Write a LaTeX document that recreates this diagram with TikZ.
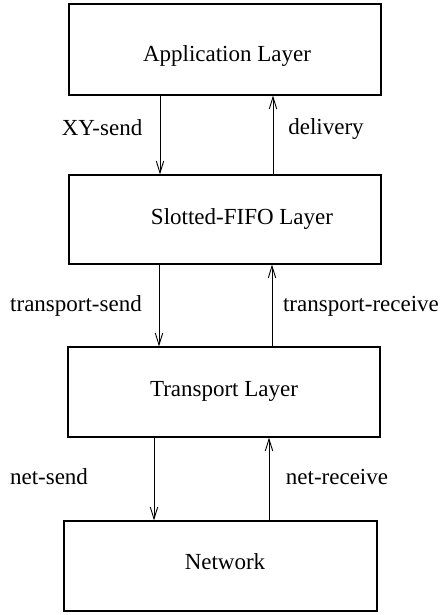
\documentclass[tikz,border=0pt]{standalone}
\usepackage{fontspec}
\setmainfont{Liberation Serif}
\usetikzlibrary{arrows.meta}
\begin{document}
\begin{tikzpicture}[x=1pt,y=-1pt,
  layerbox/.style={draw,line width=1.1pt,inner sep=0pt},
  lbl/.style={inner sep=0pt,font=\fontsize{23}{27}\selectfont},
  flow/.style={line width=0.9pt,-{Straight Barb[length=12pt,width=7.5pt,line width=0.9pt]}}]
\useasboundingbox (0,0) rectangle (445,615);

% protocol layers
\node[layerbox,minimum width=312pt,minimum height=91pt] (app)  at (225,49.5) {};
\node[layerbox,minimum width=312pt,minimum height=89pt] (slot) at (225,219.5) {};
\node[layerbox,minimum width=312pt,minimum height=90pt] (trans) at (224,392) {};
\node[layerbox,minimum width=313pt,minimum height=90pt] (net)  at (220.5,566) {};

% layer names
\node[lbl] (appname)   at (227,56)  {Application Layer};
\node[lbl] (slotname)  at (242,219.5) {Slotted-FIFO Layer};
\node[lbl] (transname) at (224,391) {Transport Layer};
\node[lbl] (netname)   at (225,562) {Network};

% downcalls and upcalls between layers
\draw[flow] (app.south -| 160,0) -- (slot.north -| 160,0);
\draw[flow] (slot.north -| 273,0) -- (app.south -| 273,0);
\draw[flow] (slot.south -| 159,0) -- (trans.north -| 159,0);
\draw[flow] (trans.north -| 272,0) -- (slot.south -| 272,0);
\draw[flow] (trans.south -| 154,0) -- (net.north -| 154,0);
\draw[flow] (net.north -| 269,0) -- (trans.south -| 269,0);

% primitive names
\node[lbl] (xysend)   at (102,128) {XY-send};
\node[lbl] (deliv)    at (326,129.5) {delivery};
\node[lbl] (tsend)    at (76,306)  {transport-send};
\node[lbl] (trecv)    at (361,306) {transport-receive};
\node[lbl] (nsend)    at (49,477)  {net-send};
\node[lbl] (nrecv)    at (337,477) {net-receive};
\end{tikzpicture}
\end{document}
